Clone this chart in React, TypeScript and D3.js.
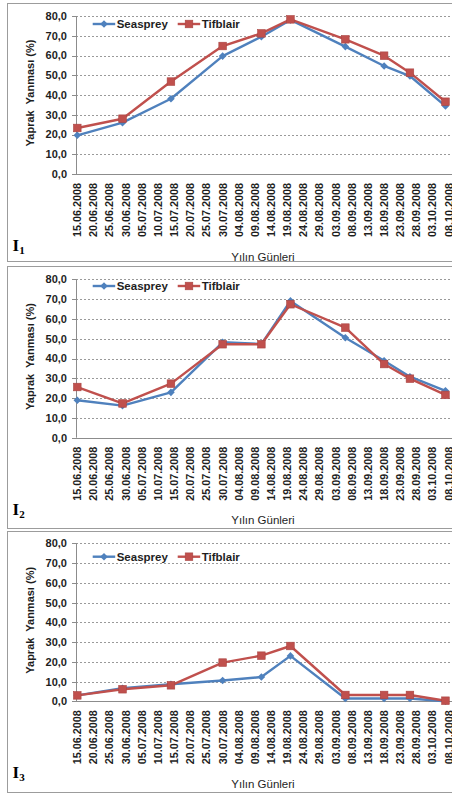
import React from "react";
import * as d3 from "d3";

// ---------- data ----------
const tickLabels = [
  "15.06.2008", "20.06.2008", "25.06.2008", "30.06.2008", "05.07.2008", "10.07.2008",
  "15.07.2008", "20.07.2008", "25.07.2008", "30.07.2008", "04.08.2008", "09.08.2008",
  "14.08.2008", "19.08.2008", "24.08.2008", "29.08.2008", "03.09.2008", "08.09.2008",
  "13.09.2008", "18.09.2008", "23.09.2008", "28.09.2008", "03.10.2008", "08.10.2008",
];
const sampleDates = [
  "15.06.2008", "29.06.2008", "14.07.2008", "30.07.2008", "11.08.2008",
  "20.08.2008", "06.09.2008", "18.09.2008", "26.09.2008", "07.10.2008",
];
const seriesNames = ["Seasprey", "Tifblair"];
const yTicks = [0, 10, 20, 30, 40, 50, 60, 70, 80];
const panelNames = ["1", "2", "3"];

const seasprey1 = [19.6, 26.0, 38.1, 59.7, 69.5, 78.0, 64.5, 54.7, 49.6, 34.4];
const tifblair1 = [23.3, 28.0, 46.8, 64.8, 71.2, 78.3, 68.2, 59.9, 51.3, 36.6];
const seasprey2 = [18.9, 16.2, 22.9, 48.2, 47.3, 69.1, 50.5, 38.9, 30.8, 23.7];
const tifblair2 = [25.6, 17.3, 27.3, 47.2, 47.2, 67.4, 55.6, 37.2, 29.8, 21.6];
const seasprey3 = [3.0, 6.6, 8.6, 10.5, 12.3, 23.0, 1.4, 1.4, 1.4, 0.0];
const tifblair3 = [3.0, 6.1, 8.1, 19.6, 23.1, 28.0, 3.2, 3.2, 3.2, 0.3];

const panelSeries = [
  [seasprey1, tifblair1],
  [seasprey2, tifblair2],
  [seasprey3, tifblair3],
];

// ---------- layout ----------
const W = 452;
const H = 794;
const panelLayout = [
  { top: 3, bottom: 261, y80: 16, y0: 174, legendY: 24 },
  { top: 266, bottom: 528, y80: 279.3, y0: 437.7, legendY: 286 },
  { top: 531, bottom: 792, y80: 543.3, y0: 701.3, legendY: 556.7 },
];
const colors = ["#4F81BD", "#C0504D"];
const parse = d3.timeParse("%d.%m.%Y");
const FONT = "'Liberation Sans', Arial, sans-serif";

const x = d3
  .scaleTime()
  .domain([parse("15.06.2008") as Date, parse("08.10.2008") as Date])
  .range([77.3, 448.7]);

function Marker({ kind, cx, cy, color }: { kind: number; cx: number; cy: number; color: string }) {
  if (kind === 0) {
    const r = 3.8;
    return (
      <path
        d={`M${cx},${cy - r}L${cx + r},${cy}L${cx},${cy + r}L${cx - r},${cy}Z`}
        fill={color}
      />
    );
  }
  const s = 7.6;
  return <rect x={cx - s / 2} y={cy - s / 2} width={s} height={s} fill={color} stroke="#A94442" strokeWidth={0.6} />;
}

function Panel({ idx }: { idx: number }) {
  const L = panelLayout[idx];
  const y = d3.scaleLinear().domain([0, 80]).range([L.y0, L.y80]);
  const dates = sampleDates.map((d) => parse(d) as Date);
  const line = d3
    .line<number>()
    .x((_, i) => x(dates[i]))
    .y((v) => y(v));
  const axisX = 76;
  const midY = (L.y0 + L.y80) / 2 - 2;
  return (
    <g>
      <rect x={7.5} y={L.top + 0.5} width={W + 20} height={L.bottom - L.top} fill="#fff" stroke="#9c9c9c" strokeWidth={1} />
      {/* gridlines */}
      {yTicks.filter((t) => t > 0).map((t) => (
        <line key={t} x1={axisX} x2={W} y1={Math.round(y(t)) + 0.5} y2={Math.round(y(t)) + 0.5}
          stroke="#9a9a9a" strokeWidth={1} strokeDasharray="2,2" />
      ))}
      {/* axes */}
      <line x1={axisX + 0.5} x2={axisX + 0.5} y1={L.y80} y2={L.y0} stroke="#8c8c8c" strokeWidth={1} />
      <line x1={axisX} x2={W} y1={Math.round(L.y0) + 0.5} y2={Math.round(L.y0) + 0.5} stroke="#8c8c8c" strokeWidth={1} />
      {yTicks.map((t) => (
        <g key={t}>
          <line x1={72} x2={axisX} y1={Math.round(y(t)) + 0.5} y2={Math.round(y(t)) + 0.5} stroke="#8c8c8c" />
          <text x={67} y={y(t)} dy="0.36em" textAnchor="end" fontFamily={FONT} fontWeight="bold" fontSize={11} fill="#1e1e1e">
            {d3.format(".1f")(t).replace(".", ",")}
          </text>
        </g>
      ))}
      {tickLabels.map((lab) => {
        const tx = x(parse(lab) as Date);
        const ty = L.y0 + 9;
        return (
          <text key={lab} transform={`translate(${tx},${ty}) rotate(-90)`} dy="0.36em" textAnchor="end"
            fontFamily={FONT} fontWeight="bold" fontSize={10.8} fill="#1e1e1e">
            {lab}
          </text>
        );
      })}
      {/* y title */}
      <text transform={`translate(34,${midY}) rotate(-90)`} textAnchor="middle" fontFamily={FONT} fontWeight="bold" fontSize={11} fill="#1e1e1e" style={{ whiteSpace: "pre" }}>
        {"Yaprak  Yanması (%)"}
      </text>
      {/* x title */}
      <text x={263} y={L.y0 + 86.5} textAnchor="middle" fontFamily={FONT} fontSize={11.5} fill="#1e1e1e">
        Yılın Günleri
      </text>
      {/* panel label */}
      <text x={12.5} y={L.y0 + 77} fontFamily="'Liberation Serif', 'Times New Roman', serif" fontWeight="bold" fontSize={17} fill="#000">
        I
        <tspan fontSize={11} dy={3}>{panelNames[idx]}</tspan>
      </text>
      {/* series */}
      {panelSeries[idx].map((vals, si) => (
        <g key={si}>
          <path d={line(vals) || ""} fill="none" stroke={colors[si]} strokeWidth={2.4} strokeLinejoin="round" />
          {vals.map((v, i) => (
            <Marker key={i} kind={si} cx={x(dates[i])} cy={y(v)} color={colors[si]} />
          ))}
        </g>
      ))}
      {/* legend */}
      {seriesNames.map((name, si) => {
        const x0 = si === 0 ? 92.7 : 177.7;
        return (
          <g key={name}>
            <line x1={x0} x2={x0 + 22.5} y1={L.legendY} y2={L.legendY} stroke={colors[si]} strokeWidth={2.4} />
            <Marker kind={si} cx={x0 + 11.3} cy={L.legendY} color={colors[si]} />
            <text x={x0 + 24} y={L.legendY} dy="0.36em" fontFamily={FONT} fontWeight="bold" fontSize={11.5} fill="#1e1e1e">
              {name}
            </text>
          </g>
        );
      })}
    </g>
  );
}

export default function App() {
  return (
    <svg width={W} height={H} viewBox={`0 0 ${W} ${H}`} style={{ position: "absolute", left: 0, top: 0, background: "#fff" }}>
      <rect x={0} y={0} width={W} height={H} fill="#fff" />
      {panelNames.map((_, i) => (
        <Panel key={i} idx={i} />
      ))}
    </svg>
  );
}
